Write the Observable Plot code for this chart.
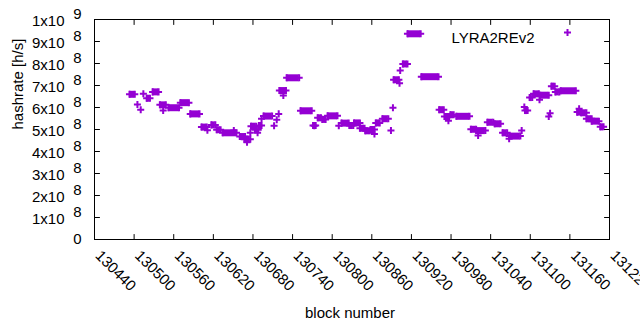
<!DOCTYPE html>
<html><head><meta charset="utf-8">
<script src="https://cdn.jsdelivr.net/npm/d3@7"></script>
<script src="https://cdn.jsdelivr.net/npm/@observablehq/plot@0.6"></script>
<style>body{margin:0;background:#fff}</style>
</head><body><div id="chart"></div>
<script>
const seriesName = "LYRA2REv2";
const xTitle = "block number";
const yTitle = "hashrate [h/s]";

// runs of consecutive blocks that share one hashrate value
const runStart = [130493,130519,130528,130539,130552,130570,130585,130602,130617,130625,130634,130660,130667,130677,130683,130689,130696,130720,130731,130752,130771,130778,130785,130793,130814,130826,130833,130842,130850,130858,130866,130876,130893,130907,130914,130935,130962,130970,130979,130988,131010,131018,131035,131046,131058,131068,131092,131099,131105,131115,131132,131138,131146,131171,131177,131185,131193,131206];
const runEnd   = [130501,130524,130537,130548,130568,130583,130599,130610,130623,130631,130655,130668,130676,130685,130688,130693,130709,130730,130750,130769,130775,130783,130790,130808,130825,130832,130842,130849,130857,130864,130872,130885,130901,130914,130934,130961,130969,130977,130984,131008,131018,131032,131044,131055,131065,131085,131096,131103,131113,131128,131137,131144,131169,131177,131185,131193,131204,131211];
const runValue = [6.60e8,6.42e8,6.71e8,6.12e8,5.99e8,6.22e8,5.71e8,5.11e8,5.21e8,4.99e8,4.85e8,4.68e8,4.56e8,5.15e8,4.99e8,5.18e8,5.61e8,6.77e8,7.35e8,5.85e8,5.18e8,5.53e8,5.46e8,5.62e8,5.29e8,5.18e8,5.30e8,5.06e8,4.94e8,5.00e8,5.30e8,5.49e8,7.26e8,7.98e8,9.35e8,7.40e8,5.90e8,5.59e8,5.67e8,5.60e8,5.01e8,4.95e8,5.33e8,5.26e8,4.85e8,4.70e8,5.86e8,6.45e8,6.62e8,6.56e8,6.97e8,6.71e8,6.76e8,5.79e8,5.76e8,5.49e8,5.38e8,5.12e8];

// isolated samples
const pointBlock = [130505,130510,130514,130544,130611,130651,130671,130676,130687,130693,130712,130716,130719,130726,130773,130810,130864,130889,130892,130902,130903,130976,131021,131068,131087,131091,131114,131128,131130,131174];
const pointValue = [6.14e8,5.90e8,6.62e8,5.86e8,4.97e8,4.95e8,4.42e8,4.85e8,4.85e8,5.49e8,5.17e8,5.44e8,5.71e8,6.55e8,5.17e8,5.17e8,4.80e8,4.95e8,5.99e8,7.10e8,7.68e8,5.40e8,4.73e8,4.58e8,4.95e8,6.02e8,6.35e8,5.59e8,5.74e8,5.94e8];

const xTicks = [130440,130500,130560,130620,130680,130740,130800,130860,130920,130980,131040,131100,131160,131220];
const xTickLabels = ["130440","130500","130560","130620","130680","130740","130800","130860","130920","130980","131040","131100","131160","131220"];
const yTicks = [0,1e8,2e8,3e8,4e8,5e8,6e8,7e8,8e8,9e8,1e9];
const yTickBase = ["0","1x10","2x10","3x10","4x10","5x10","6x10","7x10","8x10","9x10","1x10"];
const yTickExp = ["","8","8","8","8","8","8","8","8","8","9"];

const color = "#9400d3";
const runs = runStart.map((s, i) => ({start: s, end: runEnd[i], value: runValue[i]}));
const runEnds = runs.flatMap(r => [{block: r.start, value: r.value}, {block: r.end, value: r.value}]);
const points = pointBlock.map((b, i) => ({block: b, value: pointValue[i]}));

const plusR = 2.4;
const tickShape = {draw(ctx, l) { ctx.moveTo(0, 0); ctx.lineTo(0, -l); }};
const tickOpts = {length: 5, anchor: "start", shape: tickShape, stroke: "#000", strokeWidth: 1};

const chart = Plot.plot({
  width: 640, height: 330,
  marginLeft: 94, marginRight: 31, marginTop: 19, marginBottom: 91,
  x: {domain: [130440, 131220], axis: null},
  y: {domain: [0, 1e9], axis: null},
  style: {fontFamily: "'Liberation Sans', Arial, sans-serif", fontSize: "15px", color: "#000", background: "#fff"},
  marks: [
    Plot.ruleY(runs, {y: "value", x1: "start", x2: "end", stroke: color, strokeWidth: 7}),
    Plot.dot(runEnds, {x: "block", y: "value", symbol: "plus", r: plusR, stroke: color, fill: "none", strokeWidth: 2}),
    Plot.dot(points, {x: "block", y: "value", symbol: "plus", r: plusR, stroke: color, fill: "none", strokeWidth: 2}),
    Plot.frame({stroke: "#000"}),
    Plot.vector(yTicks, {y: d => d, frameAnchor: "left", rotate: 90, ...tickOpts}),
    Plot.vector(yTicks, {y: d => d, frameAnchor: "right", rotate: -90, ...tickOpts}),
    Plot.vector(xTicks, {x: d => d, frameAnchor: "bottom", rotate: 0, ...tickOpts}),
    Plot.vector(xTicks, {x: d => d, frameAnchor: "top", rotate: 180, ...tickOpts}),
    Plot.text(yTicks, {y: d => d, text: (d, i) => yTickBase[i], filter: (d, i) => yTickExp[i] !== "", frameAnchor: "left", dx: -30, dy: 1.5, textAnchor: "end", fill: "#000"}),
    Plot.text(yTicks, {y: d => d, text: (d, i) => yTickExp[i], filter: (d, i) => yTickExp[i] !== "", frameAnchor: "left", dx: -13, dy: -5.5, textAnchor: "end", fill: "#000"}),
    Plot.text(yTicks, {y: d => d, text: (d, i) => yTickBase[i], filter: (d, i) => yTickExp[i] === "", frameAnchor: "left", dx: -13, textAnchor: "end", fill: "#000"}),
    Plot.text(xTicks, {x: d => d, text: (d, i) => xTickLabels[i], frameAnchor: "bottom", rotate: 45, textAnchor: "start", dx: 0, dy: 17, fill: "#000"}),
    Plot.text([yTitle], {text: d => d, frameAnchor: "left", dx: -76, rotate: -90, fill: "#000"}),
    Plot.text([xTitle], {text: d => d, frameAnchor: "bottom", dx: -2, dy: 78, fill: "#000"}),
    Plot.text([seriesName], {text: d => d, frameAnchor: "top-right", dx: -75, dy: 13, textAnchor: "end", fill: "#000"}),
    Plot.dot([seriesName], {frameAnchor: "top-right", dx: -42, dy: 13, symbol: "plus", r: plusR, stroke: color, fill: "none", strokeWidth: 2})
  ]
});
document.getElementById("chart").append(chart);
</script>
</body></html>
